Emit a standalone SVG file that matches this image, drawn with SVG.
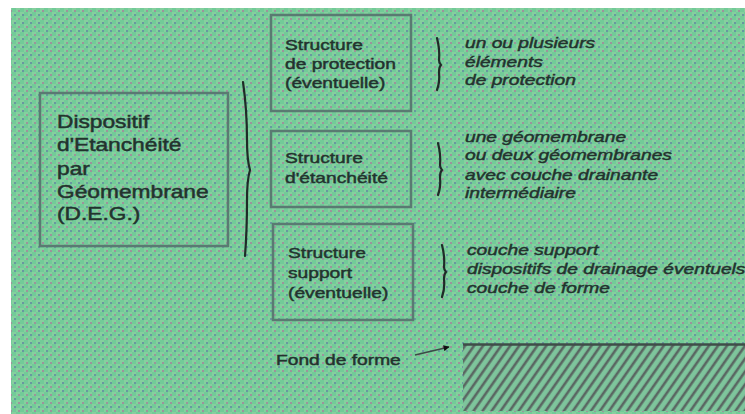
<svg xmlns="http://www.w3.org/2000/svg" width="745" height="414" viewBox="0 0 745 414">
  <defs>
    <pattern id="dither" patternUnits="userSpaceOnUse" width="8" height="8">
      <rect width="8" height="8" fill="#72cb98"/>
      <rect x="0" y="0" width="4" height="4" fill="#86cf9e"/>
      <rect x="4" y="4" width="4" height="4" fill="#86cf9e"/>
      <rect x="2" y="2" width="2" height="2" fill="#9d939c"/>
      <rect x="6" y="6" width="2" height="2" fill="#6a97a0"/>
    </pattern>
    <pattern id="hatch" patternUnits="userSpaceOnUse" width="7.4" height="10" patternTransform="rotate(35)">
      <rect width="7.4" height="10" fill="#7ec59c"/>
      <line x1="2" y1="-1" x2="2" y2="11" stroke="#5a6662" stroke-width="2.6"/>
    </pattern>
    <marker id="arrow" viewBox="0 0 10 10" refX="9" refY="5" markerWidth="8" markerHeight="6" orient="auto" markerUnits="userSpaceOnUse">
      <path d="M0,0 L10,5 L0,10 z" fill="#111"/>
    </marker>
    <style>
      .box { fill: none; stroke: #5a7a72; stroke-width: 2.5; }
      .t { font-family: "Liberation Sans", Arial, sans-serif; fill: #22332d; stroke: #22332d; stroke-width: 0.45; }
      .big { font-size: 17.5px; }
      .mid { font-size: 15px; }
      .it { font-size: 15px; font-style: italic; }
      .brace { fill: none; stroke: #1f2b27; stroke-width: 2.2; stroke-linecap: round; }
    </style>
  </defs>

  <rect width="745" height="414" fill="#ffffff"/>
  <rect x="11" y="8" width="734" height="406" fill="url(#dither)"/>

  <g id="node-deg">
    <rect class="box" x="40" y="93" width="188" height="153"/>
    <g transform="translate(57,0) scale(1.3,1)">
      <text class="t big" x="0" y="128">Dispositif</text>
      <text class="t big" x="0" y="151">d'Etanchéité</text>
      <text class="t big" x="0" y="175">par</text>
      <text class="t big" x="0" y="198">Géomembrane</text>
      <text class="t big" x="0" y="220">(D.E.G.)</text>
    </g>
  </g>

  <g id="node-protection">
    <rect class="box" x="271" y="15" width="140" height="96"/>
    <g transform="translate(285,0) scale(1.28,1)">
      <text class="t mid" x="0" y="50">Structure</text>
      <text class="t mid" x="0" y="69">de protection</text>
      <text class="t mid" x="0" y="88">(éventuelle)</text>
    </g>
  </g>

  <g id="node-etancheite">
    <rect class="box" x="271" y="131" width="140" height="76"/>
    <g transform="translate(285,0) scale(1.28,1)">
      <text class="t mid" x="0" y="163">Structure</text>
      <text class="t mid" x="0" y="183">d'étanchéité</text>
    </g>
  </g>

  <g id="node-support">
    <rect class="box" x="273" y="224" width="140" height="96"/>
    <g transform="translate(288,0) scale(1.28,1)">
      <text class="t mid" x="0" y="258">Structure</text>
      <text class="t mid" x="0" y="278">support</text>
      <text class="t mid" x="0" y="298">(éventuelle)</text>
    </g>
  </g>

  <g id="desc-protection">
    <g transform="translate(465,0) scale(1.28,1)">
      <text class="t it" x="0" y="48">un ou plusieurs</text>
      <text class="t it" x="0" y="67">éléments</text>
      <text class="t it" x="0" y="85">de protection</text>
    </g>
  </g>

  <g id="desc-etancheite">
    <g transform="translate(465,0) scale(1.28,1)">
      <text class="t it" x="0" y="142">une géomembrane</text>
      <text class="t it" x="0" y="160">ou deux géomembranes</text>
      <text class="t it" x="0" y="180">avec couche drainante</text>
      <text class="t it" x="0" y="198">intermédiaire</text>
    </g>
  </g>

  <g id="desc-support">
    <g transform="translate(467,0) scale(1.28,1)">
      <text class="t it" x="0" y="255">couche support</text>
      <text class="t it" x="0" y="274">dispositifs de drainage éventuels</text>
      <text class="t it" x="0" y="293">couche de forme</text>
    </g>
  </g>

  <g id="node-fond">
    <g transform="translate(276,0) scale(1.28,1)">
      <text class="t mid" x="0" y="365">Fond de forme</text>
    </g>
    <rect x="463" y="345" width="282" height="66" fill="url(#hatch)"/>
    <line x1="463" y1="344.5" x2="745" y2="344.5" stroke="#3f4d48" stroke-width="2.5"/>
  </g>

  <g id="connectors">
    <path class="brace" d="M243,82 Q247,110 247,140 Q247,160 250,170 Q247,180 247,200 Q247,230 245,256"/>
    <path class="brace" d="M437,38 Q440,50 439,60 Q439,63 441,65 Q439,67 439,72 Q440,82 437,90"/>
    <path class="brace" d="M438,143 Q441,155 440,165 Q440,168 442,170 Q440,172 440,177 Q441,187 438,195"/>
    <path class="brace" d="M442,245 Q445,257 444,267 Q444,270 446,272 Q444,274 444,279 Q445,289 442,297"/>
    <line x1="415" y1="355" x2="449" y2="347" stroke="#3d4a46" stroke-width="1.6" marker-end="url(#arrow)"/>
  </g>
</svg>
